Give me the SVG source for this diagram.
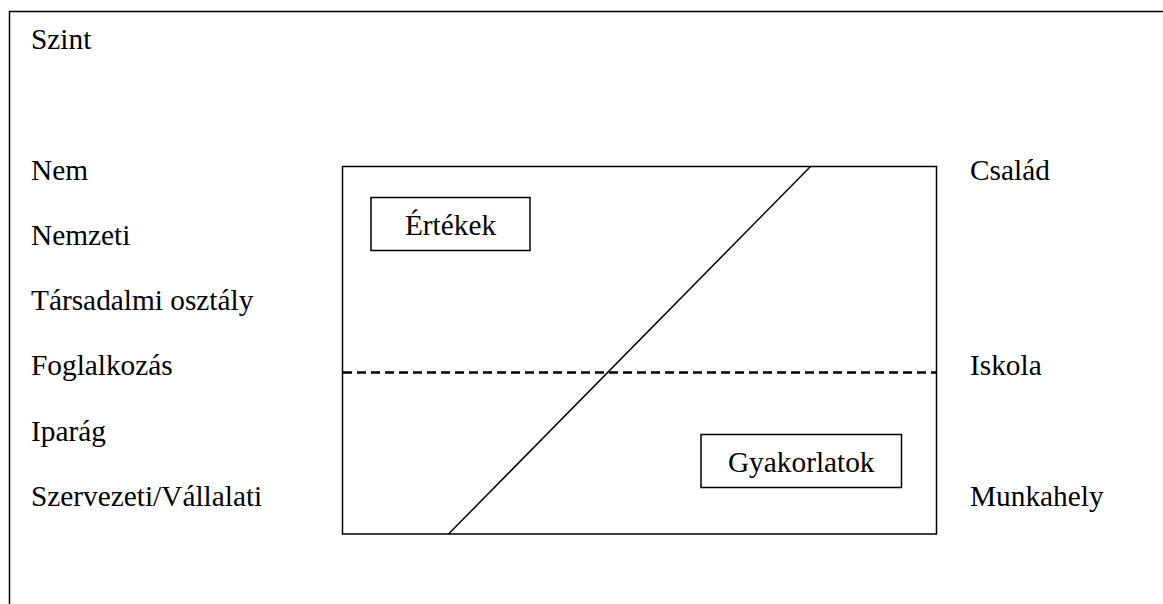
<svg xmlns="http://www.w3.org/2000/svg" width="1163" height="604" viewBox="0 0 1163 604">
<style>
text{font-family:"Liberation Serif","Times New Roman",serif;font-size:29.33px;fill:#000}
.ln{fill:none;stroke:#000;stroke-width:1.5}
</style>
<rect width="1163" height="604" fill="#fff"/>
<path class="ln" d="M9.5,604 V11.5 H1163"/>
<g id="labels">
<text x="31" y="49">Szint</text>
<text x="31" y="180">Nem</text>
<text x="31" y="245">Nemzeti</text>
<text x="31" y="310">Társadalmi osztály</text>
<text x="31" y="375">Foglalkozás</text>
<text x="31" y="441">Iparág</text>
<text x="31" y="506">Szervezeti/Vállalati</text>
<text x="970" y="180">Család</text>
<text x="970" y="375">Iskola</text>
<text x="970" y="506">Munkahely</text>
</g>
<g id="frame">
<rect class="ln" x="342.5" y="166.5" width="594" height="367.5"/>
</g>
<g id="connectors">
<line class="ln" x1="810.5" y1="166.5" x2="448.5" y2="534"/>
<line x1="343" y1="372.5" x2="936" y2="372.5" stroke="#000" stroke-width="2.5" stroke-dasharray="9,5"/>
</g>
<g id="ertekek">
<rect class="ln" x="371" y="197.5" width="159" height="53"/>
<text x="450.5" y="235" text-anchor="middle">Értékek</text>
</g>
<g id="gyakorlatok">
<rect class="ln" x="701" y="434.5" width="200.5" height="53"/>
<text x="801.25" y="471.5" text-anchor="middle">Gyakorlatok</text>
</g>
</svg>
